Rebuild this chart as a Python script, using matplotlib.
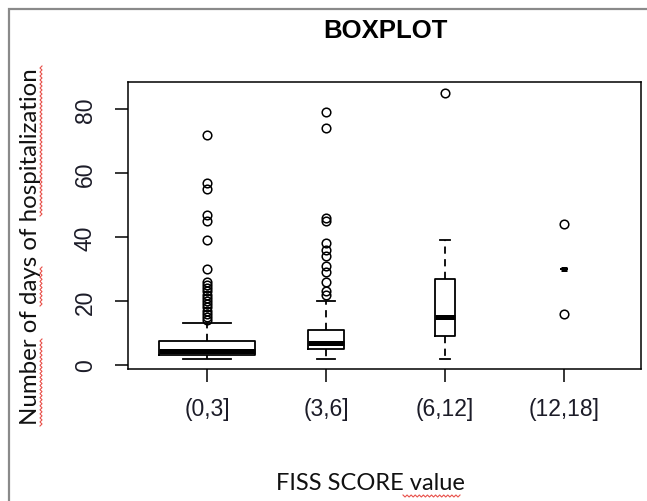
import numpy as np
import matplotlib
matplotlib.use("Agg")
import matplotlib.pyplot as plt
from matplotlib.lines import Line2D
from matplotlib.patches import Rectangle

# FISS score groups and the hospital stay (days)
groups      = ["(0,3]", "(3,6]", "(6,12]", "(12,18]"]
group_n     = [1000, 144, 40, 5]
q1_days     = [3, 5, 9, 30]
median_days = [4.5, 7, 15, 30]
q3_days     = [7.5, 11, 27, 30]
whislo_days = [2, 2, 2, 30]
whishi_days = [13, 20, 39, 30]
outliers    = [
    [14, 15, 16, 17, 18, 19, 20, 21, 22, 23, 24, 25, 26, 30, 39, 45, 47, 55, 57, 72],
    [22, 23, 26, 29, 31, 34, 36, 38, 45, 46, 74, 79],
    [85],
    [16, 44],
]

W, H = 647, 502
fig = plt.figure(figsize=(W / 100, H / 100), dpi=100)
ax = fig.add_axes([128 / W, 1 - 370 / H, (641 - 128) / W, (370 - 83) / H])

stats = []
for i, g in enumerate(groups):
    stats.append(dict(label=g, med=median_days[i], q1=q1_days[i], q3=q3_days[i],
                      whislo=whislo_days[i], whishi=whishi_days[i], fliers=outliers[i]))

# varwidth-like boxes: width ~ sqrt(n)
widths = [0.8 * np.sqrt(n / max(group_n)) for n in group_n]

ax.bxp(stats, positions=range(1, len(groups) + 1), widths=widths,
       capwidths=[w / 2 for w in widths],
       boxprops=dict(color="black", linewidth=1.3),
       medianprops=dict(color="black", linewidth=3.6, solid_capstyle="butt"),
       whiskerprops=dict(color="black", linewidth=1.3, linestyle=(0, (4, 3))),
       capprops=dict(color="black", linewidth=1.3),
       flierprops=dict(marker="o", markersize=6.2, markerfacecolor="none",
                       markeredgecolor="black", markeredgewidth=1.1))

ax.set_xlim(0.336, 4.647)
ax.set_ylim(-1.25, 88.4)
ax.set_yticks([0, 20, 40, 60, 80])
ax.set_xticks(range(1, len(groups) + 1))
ax.set_xticklabels(groups)

for sp in ax.spines.values():
    sp.set_linewidth(1.1)

tick_font = dict(family=["Liberation Sans", "DejaVu Sans"], size=16.5)
ax.tick_params(axis="both", direction="out", length=9.5, width=1.1, color="black")
ax.tick_params(axis="x", pad=11)
ax.tick_params(axis="y", pad=13)
for lab in ax.get_xticklabels():
    lab.set_fontproperties(tick_font)
    lab.set_color("#1c1c28")
for lab in ax.get_yticklabels():
    lab.set_fontproperties(tick_font)
    lab.set_color("#1c1c28")
    lab.set_rotation(90)
    lab.set_verticalalignment("center")

fig.text(385 / W, 1 - 31 / H, "BOXPLOT", ha="center", va="center",
         family=["Liberation Sans", "DejaVu Sans"], fontweight="bold", size=18.5)

fig.text(31 / W, 1 - 247 / H, "Number of days of hospitalization", rotation=90,
         ha="center", va="center", family=["Lato", "DejaVu Sans"], size=17.3, color="#111111")
fig.text(370 / W, 1 - 484 / H, "FISS SCORE value", ha="center", va="center",
         family=["Lato", "DejaVu Sans"], size=17, color="#111111")

# outer frame of the pasted image
fig.patches.append(Rectangle((9 / W, -0.1), 1.2, 1 - 10 / H + 0.1, transform=fig.transFigure,
                             fill=False, edgecolor="#8a8a8a", linewidth=1.6))


def squiggle(x0, y0, x1, y1):
    # red spell-check wave, given in pixel coords (origin top-left)
    length = np.hypot(x1 - x0, y1 - y0)
    n = int(length / 2)
    t = np.linspace(0, 1, n + 1)
    off = np.where(np.arange(n + 1) % 2 == 0, -1.0, 1.0)
    dx, dy = (x1 - x0) / length, (y1 - y0) / length
    xs = x0 + t * (x1 - x0) - dy * off
    ys = y0 + t * (y1 - y0) + dx * off
    fig.add_artist(Line2D(xs / W, 1 - ys / H, transform=fig.transFigure,
                          color="#e8504a", linewidth=0.8))


squiggle(41, 427, 41, 340)
squiggle(41, 307, 41, 268)
squiggle(41, 217, 41, 67)
squiggle(403, 497, 460, 497)

fig.savefig("out.png", dpi=100)
